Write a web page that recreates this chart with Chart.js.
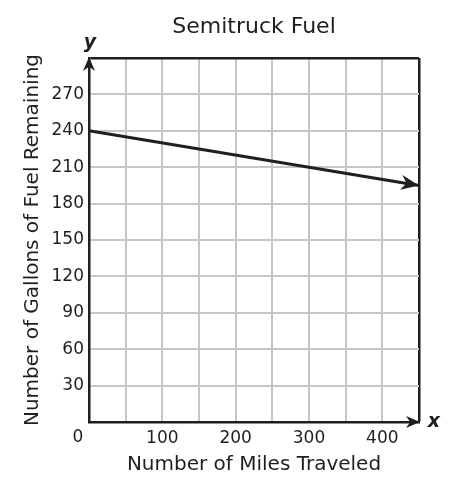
<!DOCTYPE html>
<html>
<head>
<meta charset="utf-8">
<script src="https://cdn.jsdelivr.net/npm/chart.js@4"></script>
<style>
  html, body { margin: 0; padding: 0; background: #fff; }
  #wrap { width: 457px; height: 492px; }
</style>
</head>
<body>
<div id="wrap"><canvas id="c" width="457" height="492"></canvas></div>
<script>
// ---- data ----
const milesTraveled = [0, 450];
const gallonsRemaining = [240, 195];
const xTickLabels = [100, 200, 300, 400];
const yTickLabels = [30, 60, 90, 120, 150, 180, 210, 240, 270];
const xRange = [0, 450];
const yRange = [0, 300];
const xStep = 50;
const yStep = 30;
const chartTitle = 'Semitruck Fuel';
const xTitle = 'Number of Miles Traveled';
const yTitle = 'Number of Gallons of Fuel Remaining';

const FONT = "'DejaVu Sans', Verdana, sans-serif";
const INK = '#1f1f1f';
const GRID = '#c6c6c6';

function stealth(ctx, tipX, tipY, angle, len, half) {
  ctx.save();
  ctx.translate(tipX, tipY);
  ctx.rotate(angle);
  ctx.beginPath();
  ctx.moveTo(0, 0);
  ctx.lineTo(-len, -half);
  ctx.lineTo(-len * 0.7, 0);
  ctx.lineTo(-len, half);
  ctx.closePath();
  ctx.fillStyle = INK;
  ctx.fill();
  ctx.restore();
}

const decor = {
  id: 'decor',
  afterDatasetsDraw(chart) {
    const { ctx, chartArea: a, scales: { x, y } } = chart;
    // axis arrows
    stealth(ctx, a.left, a.top - 1, -Math.PI / 2, 14, 6);
    stealth(ctx, a.right + 1, a.bottom, 0, 14, 6);
    // line arrow at the last point
    const n = milesTraveled.length;
    const x1 = x.getPixelForValue(milesTraveled[n - 2]);
    const y1 = y.getPixelForValue(gallonsRemaining[n - 2]);
    const x2 = x.getPixelForValue(milesTraveled[n - 1]);
    const y2 = y.getPixelForValue(gallonsRemaining[n - 1]);
    stealth(ctx, x2, y2, Math.atan2(y2 - y1, x2 - x1), 18, 7.5);
    // axis letters
    ctx.save();
    ctx.fillStyle = INK;
    ctx.font = "italic bold 19px " + FONT;
    ctx.textAlign = 'center';
    ctx.textBaseline = 'middle';
    ctx.fillText('y', a.left + 1, a.top - 15);
    ctx.fillText('x', a.right + 15, a.bottom);
    // origin zero label
    ctx.font = "17px " + FONT;
    ctx.fillText('0', x.getPixelForValue(xRange[0]) - 11, a.bottom + 16);
    ctx.restore();
  }
};

new Chart(document.getElementById('c'), {
  type: 'scatter',
  data: {
    datasets: [{
      data: milesTraveled.map((m, i) => ({ x: m, y: gallonsRemaining[i] })),
      showLine: true,
      borderColor: INK,
      borderWidth: 3,
      pointRadius: 0,
      clip: false,
      fill: false
    }]
  },
  options: {
    responsive: false,
    animation: false,
    devicePixelRatio: 1,
    layout: { padding: { left: 0, right: 38, top: 0, bottom: 0 } },
    plugins: {
      legend: { display: false },
      tooltip: { enabled: false },
      title: {
        display: true,
        fullSize: false,
        text: chartTitle,
        color: INK,
        font: { family: FONT, size: 22, weight: 'normal', lineHeight: 1.2 },
        padding: { top: 14, bottom: 17.6 }
      }
    },
    scales: {
      x: {
        type: 'linear',
        min: xRange[0], max: xRange[1],
        afterFit(s) { s.height = 70; },
        ticks: {
          stepSize: xStep,
          padding: 6,
          color: INK,
          maxRotation: 0,
          autoSkip: false,
          font: { family: FONT, size: 17 },
          callback: v => xTickLabels.includes(v) ? String(v) : ''
        },
        grid: {
          drawTicks: false,
          color: c => (c.tick && c.tick.value === xRange[1]) ? INK : GRID,
          lineWidth: c => (c.tick && c.tick.value === xRange[1]) ? 2.5 : 2
        },
        border: { display: true, color: INK, width: 2.5 },
        title: {
          display: true, text: xTitle, color: INK,
          font: { family: FONT, size: 20, lineHeight: 1.2 },
          padding: { top: 0, bottom: 15 }
        }
      },
      y: {
        type: 'linear',
        min: yRange[0], max: yRange[1],
        afterFit(s) { s.width = 89; },
        ticks: {
          stepSize: yStep,
          padding: 5,
          color: INK,
          autoSkip: false,
          font: { family: FONT, size: 17 },
          callback: v => yTickLabels.includes(v) ? String(v) : ''
        },
        grid: {
          drawTicks: false,
          color: c => (c.tick && c.tick.value === yRange[1]) ? INK : GRID,
          lineWidth: c => (c.tick && c.tick.value === yRange[1]) ? 2.5 : 2
        },
        border: { display: true, color: INK, width: 2.5 },
        title: {
          display: true, text: yTitle, color: INK,
          font: { family: FONT, size: 20, lineHeight: 1.2 },
          padding: { top: 21, bottom: 0 }
        }
      }
    }
  },
  plugins: [decor]
});
</script>
</body>
</html>
